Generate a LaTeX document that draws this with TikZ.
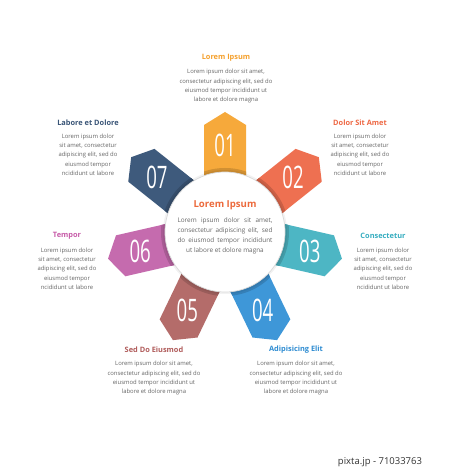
\documentclass[tikz,border=0pt]{standalone}
\usepackage{fontspec}
\setmainfont{Open Sans}
\usepackage{graphicx}
\definecolor{cA}{HTML}{F6A93B}
\definecolor{cB}{HTML}{EE7051}
\definecolor{cC}{HTML}{4DB6C4}
\definecolor{cD}{HTML}{3E97D8}
\definecolor{cE}{HTML}{B46C6A}
\definecolor{cF}{HTML}{C56BAE}
\definecolor{cG}{HTML}{3E5A7C}
\definecolor{tA}{HTML}{F5A02C}
\definecolor{tB}{HTML}{EE6844}
\definecolor{tC}{HTML}{36ADC0}
\definecolor{tD}{HTML}{2E8CD2}
\definecolor{tE}{HTML}{B05B5A}
\definecolor{tF}{HTML}{C75BA8}
\definecolor{tG}{HTML}{3A5577}
\definecolor{tM}{HTML}{EC6A3C}
\definecolor{txtgray}{HTML}{666666}
\tikzset{
  ttl/.style={font=\bfseries\fontsize{7.4}{9}\selectfont, inner sep=0pt},
  bodytxt/.style={font=\fontsize{5.9}{9.3}\selectfont, text=txtgray, align=center, inner sep=0pt},
  numtxt/.style={font=\fontsize{31}{31}\selectfont, text=white, inner sep=0pt},
}
\begin{document}
\begin{tikzpicture}[x=1pt,y=1pt]
\useasboundingbox (0,0) rectangle (450,469);
\fill[white] (0,0) rectangle (450,469);
\coordinate (C) at (225,237);
% petals
\foreach \a/\c in {90/cA, 38.57/cB, -12.86/cC, -64.29/cD, -115.71/cE, -167.14/cF, 141.43/cG}{
  \begin{scope}[shift={(C)}, rotate=\a-90]
    \fill[\c] (-21,45) -- (-21,107) -- (0,120) -- (21,107) -- (21,45) -- cycle;
    \begin{scope}
      \clip (-21,45) rectangle (21,120);
      \fill[\c!85!black] (0,0) circle (64);
    \end{scope}
  \end{scope}
}
% center circle
\fill[black, opacity=0.05] (C) circle (62);
\fill[white] (C) circle (60);
\draw[gray!30, line width=0.7pt] (C) circle (60);
% numbers
\foreach \a/\t [count=\i] in {90/01, 38.57/02, -12.86/03, -64.29/04, -115.71/05, -167.14/06, 141.43/07}{
  \node[numtxt] (num\i) at ([shift={(\a:87)}]C) {\scalebox{0.6}[1]{\t}};
}
% center text
\node[ttl, text=tM, font=\bfseries\fontsize{9.6}{11}\selectfont] (ctitle) at (225,264) {Lorem Ipsum};
\node[bodytxt, font=\fontsize{6.4}{10}\selectfont] (cbody) at (225,233.3) {%
\makebox[95pt][s]{Lorem ipsum dolor sit amet,}\\
\makebox[95pt][s]{consectetur adipiscing elit, sed}\\
\makebox[95pt][s]{do eiusmod tempor incididunt}\\
ut labore et dolore magna};
% 01
\node[ttl, text=tA] (t1) at (226,411) {Lorem Ipsum};
\node[bodytxt] (b1) at (226,382.7) {Lorem ipsum dolor sit amet,\\ consectetur adipiscing elit, sed do\\ eiusmod tempor incididunt ut\\ labore et dolore magna};
% 02
\node[ttl, text=tB] (t2) at (360,346.3) {Dolor Sit Amet};
\node[bodytxt] (b2) at (360,314.3) {Lorem ipsum dolor\\ sit amet, consectetur\\ adipiscing elit, sed do\\ eiusmod tempor\\ ncididunt ut labore};
% 07
\node[ttl, text=tG] (t7) at (88,346.3) {Labore et Dolore};
\node[bodytxt] (b7) at (88,314.3) {Lorem ipsum dolor\\ sit amet, consectetur\\ adipiscing elit, sed do\\ eiusmod tempor\\ ncididunt ut labore};
% 03
\node[ttl, text=tC] (t3) at (383,233) {Consectetur};
\node[bodytxt] (b3) at (383,200.3) {Lorem ipsum dolor\\ sit amet, consectetur\\ adipiscing elit, sed do\\ eiusmod tempor\\ ncididunt ut labore};
% 06
\node[ttl, text=tF] (t6) at (67,233) {Tempor};
\node[bodytxt] (b6) at (67,200.3) {Lorem ipsum dolor\\ sit amet, consectetur\\ adipiscing elit, sed do\\ eiusmod tempor\\ ncididunt ut labore};
% 05
\node[ttl, text=tE] (t5) at (154,119) {Sed Do Eiusmod};
\node[bodytxt] (b5) at (154,90.7) {Lorem ipsum dolor sit amet,\\ consectetur adipiscing elit, sed do\\ eiusmod tempor incididunt ut\\ labore et dolore magna};
% 04
\node[ttl, text=tD] (t4) at (296,119) {Adipisicing Elit};
\node[bodytxt] (b4) at (296,90.7) {Lorem ipsum dolor sit amet,\\ consectetur adipiscing elit, sed do\\ eiusmod tempor incididunt ut\\ labore et dolore magna};
% watermark id
\node[font=\fontsize{9.5}{10}\selectfont, text=black!80, inner sep=0pt] (wm) at (380,7) {pixta.jp - 71033763};
\end{tikzpicture}
\end{document}
